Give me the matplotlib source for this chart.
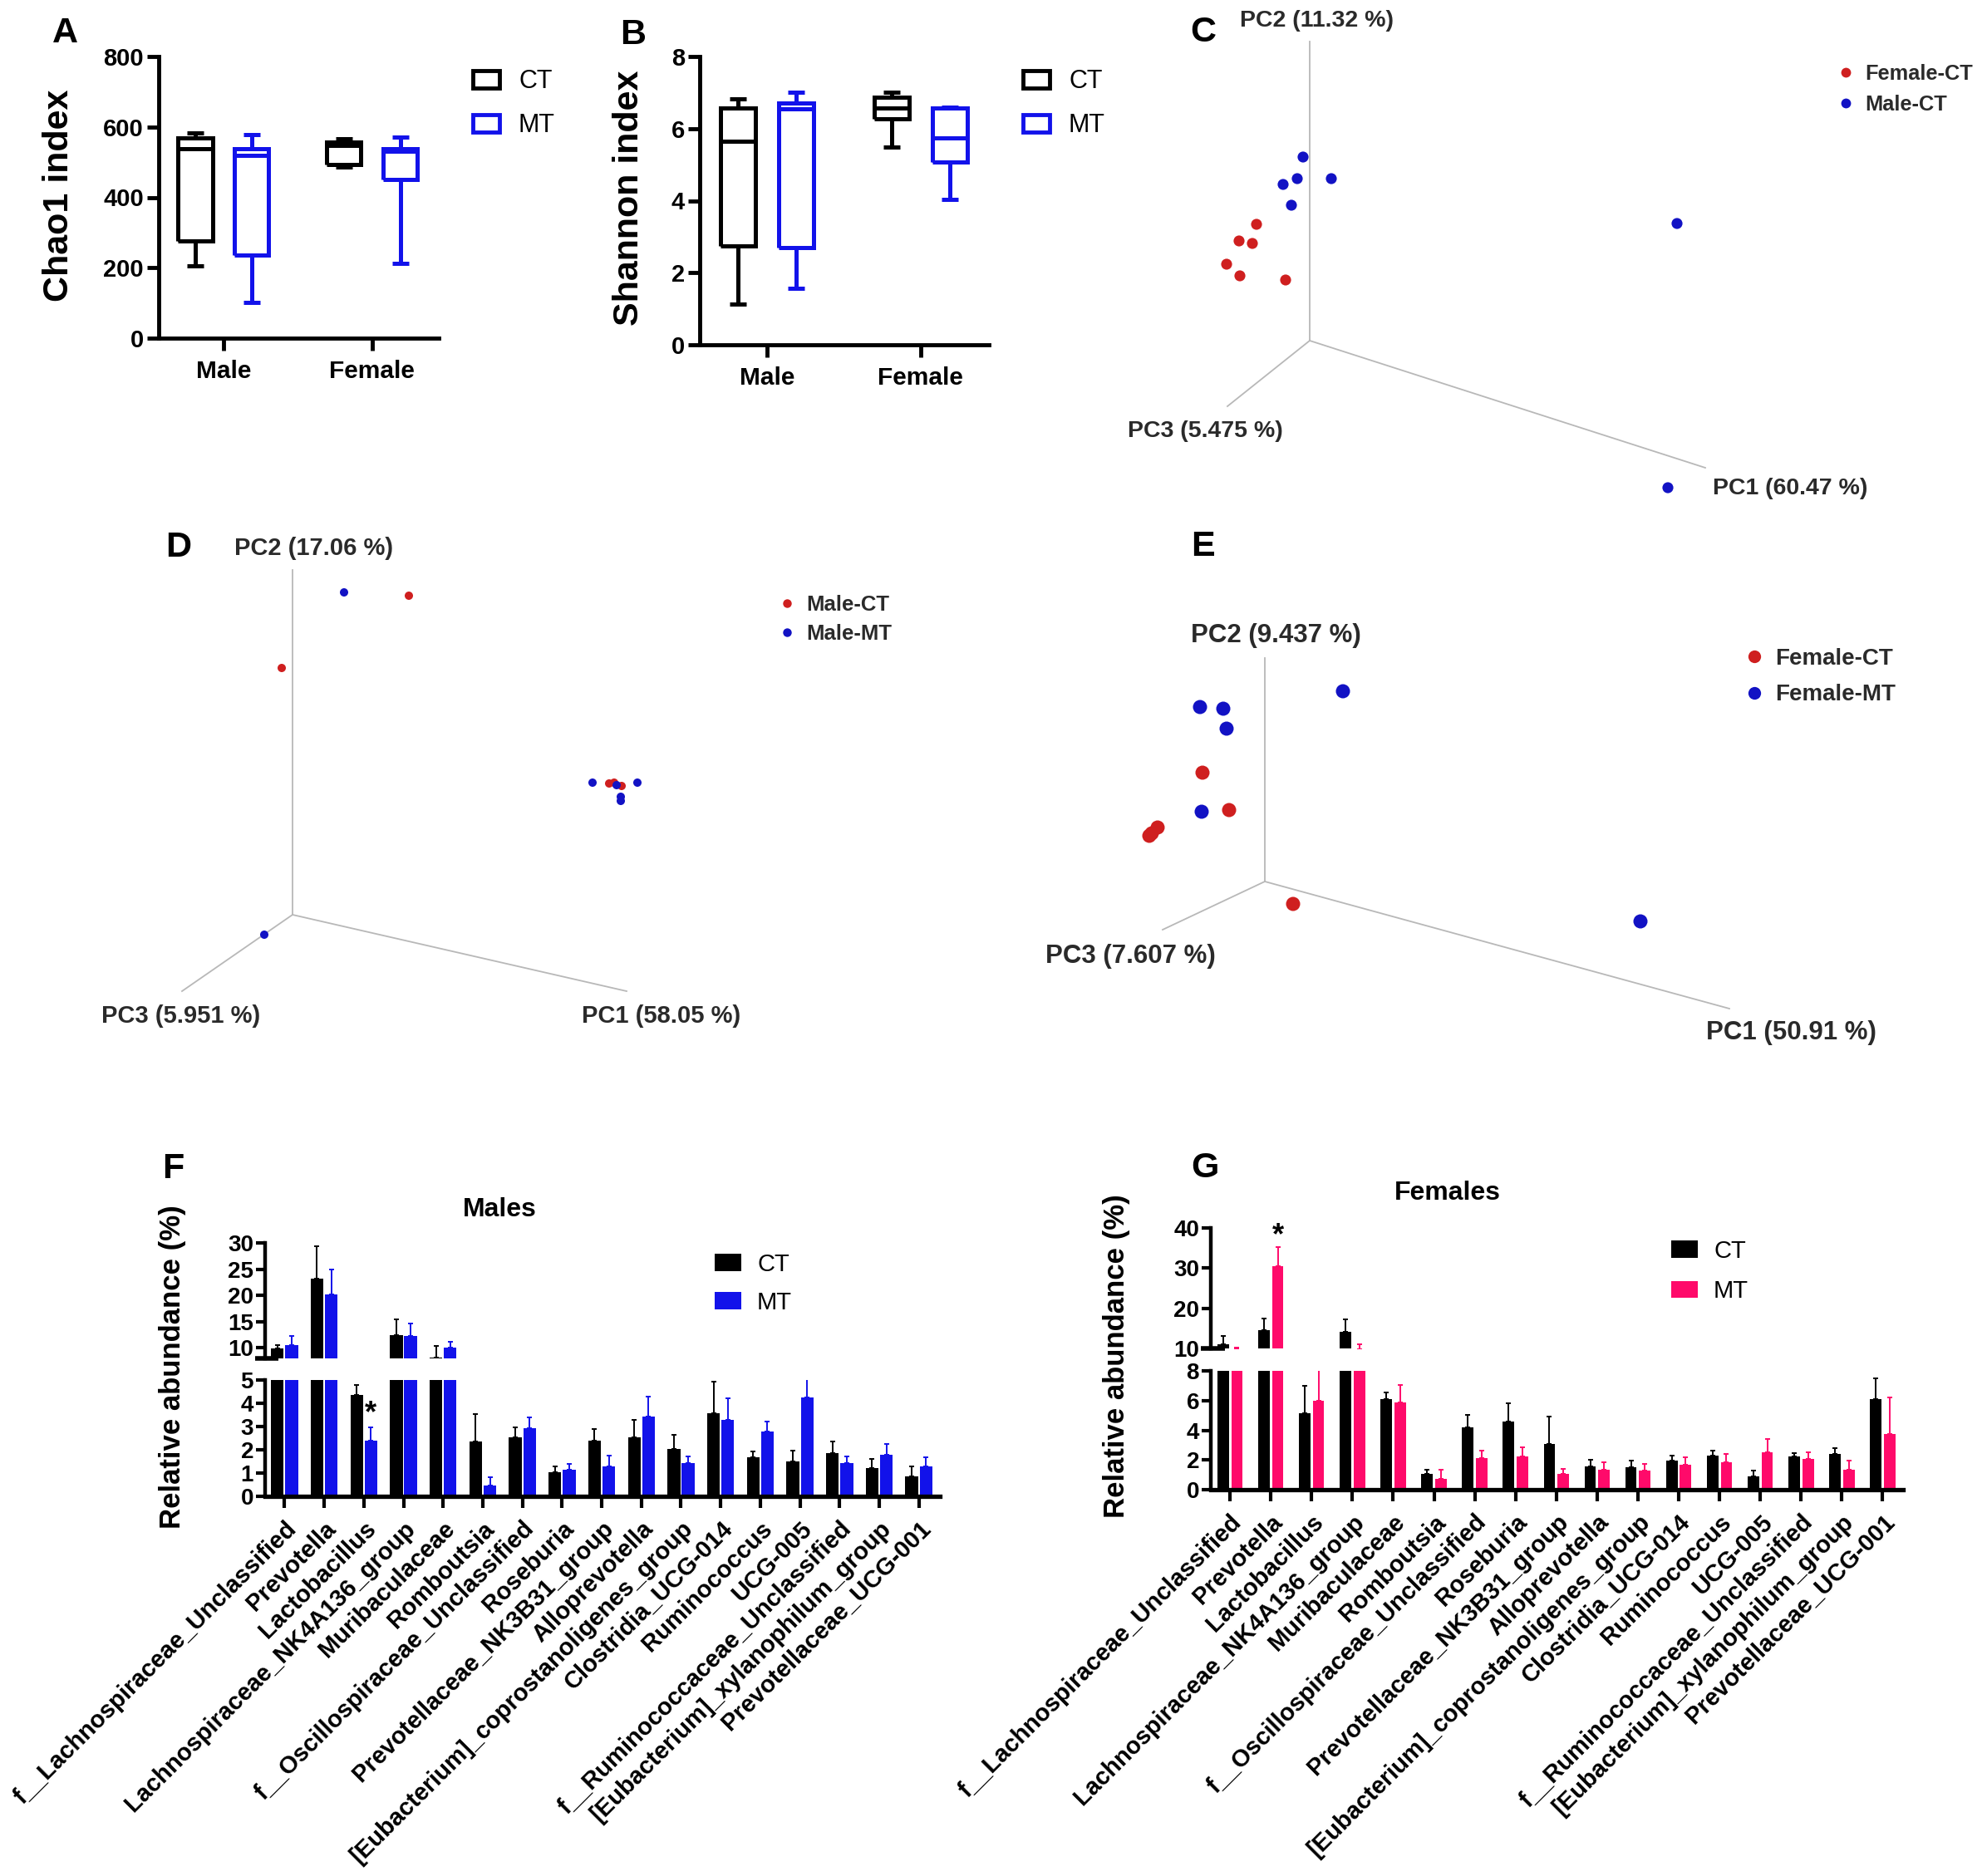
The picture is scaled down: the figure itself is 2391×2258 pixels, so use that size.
import numpy as np
import matplotlib
matplotlib.use('Agg')
import matplotlib.pyplot as plt
from matplotlib.patches import Patch
from matplotlib.lines import Line2D

plt.rcParams['font.family'] = ['Liberation Sans', 'DejaVu Sans']
plt.rcParams['font.weight'] = 'bold'

# ---------------- data ----------------
groups = ['Male', 'Female']
# whislo, q1, median, q3, whishi
chao_ct = [[205, 277, 539, 568, 583], [486, 494, 547, 557, 567]]
chao_mt = [[101, 235, 518, 539, 579], [213, 451, 530, 539, 571]]
shannon_ct = [[1.13, 2.74, 5.64, 6.58, 6.83], [5.49, 6.27, 6.58, 6.87, 7.02]]
shannon_mt = [[1.57, 2.69, 6.54, 6.72, 7.00], [4.03, 5.07, 5.74, 6.58, 6.60]]

# PCoA scores, projected on the page (x to the right, y up, origin = axes corner)
c_fct_x = [-64, -85, -69, -100, -84, -29]
c_fct_y = [140, 120, 117, 92, 78, 73]
c_mct_x = [-8, -15, -32, 26, -22, 442, 431]
c_mct_y = [221, 195, 188, 195, 163, 141, -177]

d_mct_x = [140, -13, 381, 387, 396]
d_mct_y = [384, 297, 158, 159, 155]
d_mmt_x = [62, -34, 361, 415, 390, 395, 395]
d_mmt_y = [388, -24, 159, 159, 156, 142, 137]

e_fct_x = [-75, -43, -129, -136, -139, 34]
e_fct_y = [131, 86, 65, 58, 55, -27]
e_fmt_x = [94, -78, -50, -46, -76, 452]
e_fmt_y = [229, 210, 208, 184, 84, -48]

genera = ['f__Lachnospiraceae_Unclassified', 'Prevotella', 'Lactobacillus',
          'Lachnospiraceae_NK4A136_group', 'Muribaculaceae', 'Romboutsia',
          'f__Oscillospiraceae_Unclassified', 'Roseburia', 'Prevotellaceae_NK3B31_group',
          'Alloprevotella', '[Eubacterium]_coprostanoligenes_group', 'Clostridia_UCG-014',
          'Ruminococcus', 'UCG-005', 'f__Ruminococcaceae_Unclassified',
          '[Eubacterium]_xylanophilum_group', 'Prevotellaceae_UCG-001']

male_ct = [9.9, 23.2, 4.35, 12.5, 8.2, 2.35, 2.55, 1.05, 2.38, 2.55, 2.05, 3.58, 1.68, 1.50, 1.85, 1.23, 0.85]
male_ct_err = [0.7, 6.2, 0.45, 3.0, 2.1, 1.18, 0.40, 0.23, 0.50, 0.73, 0.58, 1.35, 0.25, 0.48, 0.50, 0.37, 0.45]
male_mt = [10.6, 20.2, 2.38, 12.2, 10.1, 0.45, 2.93, 1.13, 1.30, 3.43, 1.43, 3.30, 2.78, 4.25, 1.43, 1.80, 1.27]
male_mt_err = [1.7, 4.8, 0.60, 2.4, 1.1, 0.37, 0.47, 0.25, 0.45, 0.85, 0.30, 0.93, 0.45, 0.80, 0.27, 0.45, 0.40]

female_ct = [11.0, 14.5, 5.15, 14.1, 6.10, 1.07, 4.20, 4.60, 3.09, 1.58, 1.50, 1.98, 2.30, 0.91, 2.26, 2.38, 6.10]
female_ct_err = [2.2, 2.9, 1.82, 3.2, 0.47, 0.28, 0.83, 1.22, 1.86, 0.44, 0.44, 0.32, 0.35, 0.39, 0.20, 0.43, 1.42]
female_mt = [9.9, 30.5, 6.00, 9.8, 5.86, 0.71, 2.14, 2.26, 1.07, 1.35, 1.31, 1.70, 1.86, 2.53, 2.06, 1.35, 3.76]
female_mt_err = [0.3, 4.8, 2.70, 1.3, 1.19, 0.64, 0.51, 0.59, 0.32, 0.47, 0.43, 0.48, 0.56, 0.87, 0.44, 0.63, 2.46]

# ---------------- figure ----------------
W, H = 2391, 2258
fig = plt.figure(figsize=(W / 100, H / 100), dpi=100)

BLUE = '#1212ea'
PINK = '#ff0a6a'
RED = '#cf1f1f'
DBLUE = '#1212c4'
TXT = '#2a2a2a'


def px_axes(x0, y0, x1, y1):
    return fig.add_axes([x0 / W, 1 - y1 / H, (x1 - x0) / W, (y1 - y0) / H])


def fpos(x, y):
    return x / W, 1 - y / H


def panel_letter(x, y, s):
    fig.text(*fpos(x, y), s, fontsize=31, fontweight='bold', ha='center', va='center')


def box_panel(rect, ct, mt, ymax, yticks, ylabel, ylab_xy, leg_xy, xlim):
    ax = px_axes(*rect)
    pos = np.arange(len(groups))
    for vals, col, off in [(ct, 'black', -0.19), (mt, BLUE, 0.19)]:
        stats = [dict(whislo=v[0], q1=v[1], med=v[2], q3=v[3], whishi=v[4]) for v in vals]
        lp = dict(color=col, linewidth=3.6, solid_capstyle='butt', solid_joinstyle='miter')
        ax.bxp(stats, positions=pos + off, widths=0.23, capwidths=0.11, showfliers=False,
               boxprops=lp, whiskerprops=lp, capprops=lp, medianprops=lp, manage_ticks=False)
    ax.set_xlim(*xlim)
    ax.set_ylim(0, ymax)
    ax.set_yticks(yticks)
    ax.set_xticks(pos)
    ax.set_xticklabels(groups)
    for s in ('top', 'right'):
        ax.spines[s].set_visible(False)
    for s in ('left', 'bottom'):
        ax.spines[s].set_linewidth(3.5)
    ax.tick_params(axis='y', length=10, width=3.5, labelsize=21, pad=3)
    ax.tick_params(axis='x', length=11, width=3.5, labelsize=21.5, pad=8)
    ax.set_ylabel(ylabel, fontsize=31, fontweight='bold', va='center')
    ax.yaxis.set_label_coords(*fpos(*ylab_xy), transform=fig.transFigure)
    handles = [Patch(facecolor='none', edgecolor='black', lw=3.5),
               Patch(facecolor='none', edgecolor=BLUE, lw=3.5)]
    ax.legend(handles, ['CT', 'MT'], loc='upper left', bbox_to_anchor=fpos(*leg_xy),
              bbox_transform=fig.transFigure, frameon=False, borderpad=0, borderaxespad=0,
              handlelength=1.05, handleheight=0.66, handletextpad=0.75, labelspacing=0.76,
              prop={'size': 22, 'weight': 'normal'})
    return ax


def pcoa_panel(rect, origin, pc_ends, pc_labels, label_pos, series, msize, fs_axis,
               leg_xy, leg_fs, leg_ms, leg_space):
    x0, y0, x1, y1 = rect
    ox, oy = origin
    ax = px_axes(x0, y0, x1, y1)
    ax.set_xlim(x0 - ox, x1 - ox)
    ax.set_ylim(oy - y1, oy - y0)
    ax.axis('off')
    for ex, ey in pc_ends:
        ax.plot([0, ex], [0, ey], color='#b8b8b8', lw=1.3, zorder=1)
    for txt, (tx, ty) in zip(pc_labels, label_pos):
        ax.text(tx, ty, txt, ha='center', va='center', fontsize=fs_axis,
                fontweight='bold', color=TXT)
    handles = []
    for xs, ys, col, name in series:
        ax.scatter(xs, ys, s=msize, color=col, edgecolors='none', zorder=3)
        handles.append(Line2D([], [], ls='', marker='o', color=col, markersize=leg_ms,
                              markeredgewidth=0))
    leg = ax.legend(handles, [s[3] for s in series], loc='upper left',
                    bbox_to_anchor=fpos(*leg_xy), bbox_transform=fig.transFigure,
                    frameon=False, borderpad=0, borderaxespad=0, handlelength=0.8,
                    handletextpad=0.5, labelspacing=leg_space,
                    prop={'size': leg_fs, 'weight': 'bold'})
    for t in leg.get_texts():
        t.set_color(TXT)
    return ax


def bar_panel(rect_up, rect_lo, ct, ct_err, mt, mt_err, col, width, off,
              ylim_up, ylim_lo, ticks_up, ticks_lo, xlim, ylab_xy, leg_xy, leg_space):
    ax_up = px_axes(*rect_up)
    ax_lo = px_axes(*rect_lo)
    x = np.arange(len(genera))
    zeros = np.zeros(len(x))
    for ax in (ax_up, ax_lo):
        ax.bar(x - off, ct, width, color='black', label='CT', yerr=[zeros, ct_err],
               error_kw=dict(ecolor='black', elinewidth=1.4, capsize=2.5, capthick=1.4))
        ax.bar(x + off, mt, width, color=col, label='MT', yerr=[zeros, mt_err],
               error_kw=dict(ecolor=col, elinewidth=1.4, capsize=2.5, capthick=1.4))
        ax.set_xlim(*xlim)
        for s in ('top', 'right'):
            ax.spines[s].set_visible(False)
        ax.spines['left'].set_linewidth(3.2)
        ax.spines['bottom'].set_linewidth(3.8)
        ax.tick_params(axis='y', length=8, width=3, labelsize=20, pad=2)
    ax_up.set_ylim(*ylim_up)
    ax_up.set_yticks(ticks_up)
    ax_up.spines['bottom'].set_visible(False)
    ax_up.set_xticks([])
    ax_up.plot([-0.015, 0.02], [0, 0], transform=ax_up.transAxes, color='black', lw=4,
               clip_on=False, solid_capstyle='butt')
    ax_lo.set_ylim(*ylim_lo)
    ax_lo.set_yticks(ticks_lo)
    ax_lo.set_xticks(x)
    ax_lo.set_xticklabels(genera, rotation=45, ha='right', va='top', rotation_mode='anchor',
                          fontsize=21, fontweight='bold')
    ax_lo.tick_params(axis='x', length=10, width=3, pad=8)
    ax_lo.set_ylabel('Relative abundance (%)', fontsize=25, fontweight='bold', va='center')
    ax_lo.yaxis.set_label_coords(*fpos(*ylab_xy), transform=fig.transFigure)
    ax_up.legend(loc='upper left', bbox_to_anchor=fpos(*leg_xy), bbox_transform=fig.transFigure,
                 frameon=False, borderpad=0, borderaxespad=0, handlelength=1.1,
                 handleheight=0.72, handletextpad=0.65, labelspacing=leg_space,
                 prop={'size': 21, 'weight': 'normal'})
    return ax_up, ax_lo


# A, B : alpha diversity
box_panel((191, 68, 528, 407), chao_ct, chao_mt, 800, [0, 200, 400, 600, 800], 'Chao1 index',
          (71, 235), (569, 83), (-0.436, 1.449))
box_panel((842, 68, 1190, 415), shannon_ct, shannon_mt, 8, [0, 2, 4, 6, 8], 'Shannon index',
          (757, 238), (1231, 83), (-0.438, 1.444))
panel_letter(78, 40, 'A')
panel_letter(762, 42, 'B')

# C : PCoA female-CT vs male-CT
pcoa_panel((1330, 0, 2391, 620), (1576, 410),
           [(0, 360), (-99, -79), (476, -153)],
           ['PC2 (11.32 %)', 'PC3 (5.475 %)', 'PC1 (60.47 %)'],
           [(9, 385), (-126, -109), (578, -178)],
           [(c_fct_x, c_fct_y, RED, 'Female-CT'), (c_mct_x, c_mct_y, DBLUE, 'Male-CT')],
           90, 20.5, (2211, 77), 18.3, 8.5, 0.52)
panel_letter(1448, 39, 'C')

# D : PCoA male-CT vs male-MT
pcoa_panel((0, 620, 1150, 1300), (352, 1101),
           [(0, 415), (-133, -92), (402, -92)],
           ['PC2 (17.06 %)', 'PC3 (5.951 %)', 'PC1 (58.05 %)'],
           [(26, 441), (-134, -122), (444, -122)],
           [(d_mct_x, d_mct_y, RED, 'Male-CT'), (d_mmt_x, d_mmt_y, DBLUE, 'Male-MT')],
           52, 21, (937, 716), 18.5, 7.5, 0.42)
panel_letter(215, 659, 'D')

# E : PCoA female-CT vs female-MT
pcoa_panel((1200, 640, 2391, 1300), (1522, 1061),
           [(0, 269), (-123, -58), (559, -153)],
           ['PC2 (9.437 %)', 'PC3 (7.607 %)', 'PC1 (50.91 %)'],
           [(13, 296), (-162, -90), (633, -182)],
           [(e_fct_x, e_fct_y, RED, 'Female-CT'), (e_fmt_x, e_fmt_y, DBLUE, 'Female-MT')],
           150, 22.5, (2100, 780), 20, 11, 0.62)
panel_letter(1447, 658, 'E')

# F : males
fu, fl = bar_panel((319, 1496, 1131, 1635), (319, 1661, 1131, 1801),
                   male_ct, male_ct_err, male_mt, male_mt_err, BLUE, 0.32, 0.18,
                   (8, 30), (0, 5), [10, 15, 20, 25, 30], [0, 1, 2, 3, 4, 5],
                   (-0.49, 16.53), (208, 1645), (860, 1508), 0.62)
fl.text(2 + 0.18, 3.55, '*', ha='center', va='center', fontsize=26, fontweight='bold')
fig.text(*fpos(601, 1456), 'Males', fontsize=23, fontweight='bold', ha='center', va='center')
panel_letter(208, 1407, 'F')

# G : females
gu, gl = bar_panel((1457, 1478, 2290, 1623), (1457, 1650, 2290, 1793),
                   female_ct, female_ct_err, female_mt, female_mt_err, PINK, 0.28, 0.17,
                   (10, 40), (0, 8), [10, 20, 30, 40], [0, 2, 4, 6, 8],
                   (-0.47, 16.5), (1344, 1632), (2011, 1492), 0.69)
gu.text(1 + 0.17, 38.0, '*', ha='center', va='center', fontsize=26, fontweight='bold')
fig.text(*fpos(1742, 1436), 'Females', fontsize=23, fontweight='bold', ha='center', va='center')
panel_letter(1450, 1406, 'G')

fig.savefig('out.png', dpi=100)
